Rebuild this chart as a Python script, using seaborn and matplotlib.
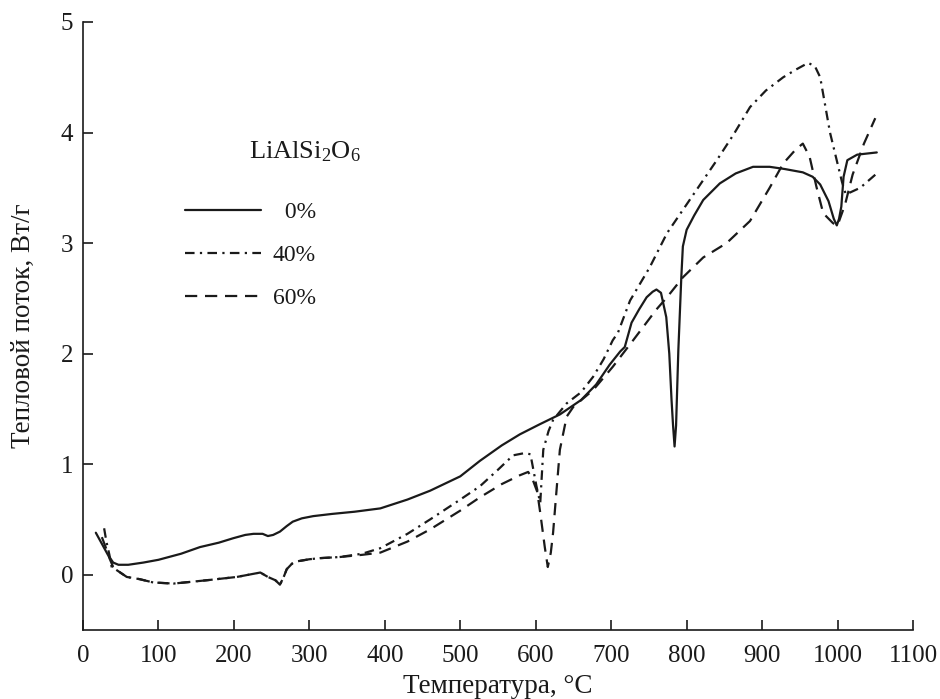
import matplotlib
matplotlib.use('Agg')
import matplotlib.pyplot as plt
import seaborn as sns
import pandas as pd

# 0% LiAlSi2O6
t_0 = [17, 25, 33, 40, 47, 60, 80, 100, 130, 155, 180, 199, 215, 226, 238, 245, 252, 261, 270, 278,
       290, 305, 330, 360, 394, 430, 460, 500, 526, 555, 579, 605, 632, 660, 680, 698, 712, 718, 727,
       737, 747, 755, 760, 766, 773, 777, 780, 782, 784, 786, 789, 793, 795, 800, 810, 822, 844, 865,
       888, 910, 930, 954, 967, 977, 988, 995, 999, 1002, 1005, 1008, 1013, 1026, 1052]
q_0 = [0.38, 0.28, 0.18, 0.11, 0.09, 0.09, 0.11, 0.135, 0.19, 0.25, 0.29, 0.33, 0.36, 0.37, 0.37, 0.35,
       0.36, 0.39, 0.44, 0.48, 0.51, 0.53, 0.55, 0.57, 0.60, 0.68, 0.76, 0.89, 1.03, 1.17, 1.27, 1.36,
       1.45, 1.58, 1.72, 1.90, 2.02, 2.06, 2.28, 2.40, 2.51, 2.56, 2.58, 2.55, 2.33, 2.0, 1.58, 1.35,
       1.16, 1.35, 2.03, 2.7, 2.97, 3.12, 3.25, 3.39, 3.54, 3.63, 3.69, 3.69, 3.67, 3.64, 3.6, 3.53,
       3.38, 3.22, 3.16, 3.22, 3.33, 3.6, 3.75, 3.8, 3.82]

# 40%
t_40 = [28, 31, 35, 38, 45, 58, 75, 93, 120, 164, 204, 235, 245, 255, 261, 266, 270, 277, 283, 300,
        314, 340, 370, 394, 430, 460, 500, 526, 550, 570, 585, 593, 601, 606, 610, 617, 623, 641, 660,
        676, 690, 702, 709, 725, 751, 774, 795, 820, 840, 862, 884, 905, 928, 945, 961, 970, 977, 990,
        1006, 1011, 1030, 1052]
q_40 = [0.42, 0.3, 0.18, 0.07, 0.04, -0.02, -0.04, -0.07, -0.08, -0.05, -0.02, 0.02, -0.02, -0.05,
        -0.09, -0.02, 0.05, 0.1, 0.12, 0.14, 0.15, 0.16, 0.19, 0.24, 0.37, 0.5, 0.68, 0.8, 0.95, 1.08,
        1.10, 1.09, 0.8, 0.65, 1.13, 1.3, 1.4, 1.55, 1.65, 1.79, 1.95, 2.12, 2.19, 2.48, 2.78, 3.09,
        3.3, 3.55, 3.75, 3.98, 4.23, 4.38, 4.5, 4.57, 4.63, 4.6, 4.5, 4.0, 3.55, 3.44, 3.5, 3.63]

# 60%
t_60 = [25, 30, 35, 40, 45, 58, 75, 93, 120, 164, 204, 235, 245, 255, 261, 266, 270, 277, 283, 300,
        314, 340, 370, 394, 430, 460, 500, 526, 555, 579, 590, 596, 602, 606, 612, 616, 620, 623, 628,
        632, 641, 650, 676, 702, 729, 760, 774, 795, 822, 853, 884, 910, 928, 945, 954, 963, 972, 981,
        994, 1000, 1010, 1020, 1035, 1050]
q_60 = [0.34, 0.25, 0.15, 0.07, 0.04, -0.02, -0.04, -0.07, -0.08, -0.05, -0.02, 0.02, -0.02, -0.05,
        -0.09, -0.02, 0.05, 0.1, 0.12, 0.14, 0.15, 0.16, 0.18, 0.2, 0.3, 0.41, 0.58, 0.7, 0.82, 0.9,
        0.93, 0.86, 0.75, 0.56, 0.25, 0.07, 0.2, 0.38, 0.8, 1.13, 1.43, 1.52, 1.67, 1.88, 2.12, 2.4,
        2.51, 2.69, 2.87, 3.0, 3.2, 3.5, 3.72, 3.85, 3.9, 3.78, 3.51, 3.27, 3.18, 3.16, 3.35, 3.62,
        3.9, 4.13]

labels = ['\u20070%', '40%', '60%']
styles = ['-', (0, (4.3, 2.4, 1.0, 2.4)), (0, (5.5, 3.5))]

sns.set_theme(style='ticks')
plt.rcParams['font.family'] = ['Liberation Serif', 'DejaVu Serif']
plt.rcParams['mathtext.fontset'] = 'custom'
plt.rcParams['mathtext.rm'] = 'Liberation Serif'
plt.rcParams['mathtext.it'] = 'Liberation Serif:italic'

fig = plt.figure(figsize=(9.4, 6.99), dpi=100)
ax = fig.add_axes([83 / 940, 1 - 630 / 699, 830 / 940, 608 / 699])

series = [(t_0, q_0), (t_40, q_40), (t_60, q_60)]
for (t, q), lab, ls in zip(series, labels, styles):
    d = pd.DataFrame({'T': t, 'Q': q})
    sns.lineplot(data=d, x='T', y='Q', sort=False, color='#1a1a1a', lw=1.6,
                 linestyle=ls, label=lab, ax=ax)

ax.set_xlim(0, 1100)
ax.set_ylim(-0.5, 5)
ax.set_xticks(range(0, 1101, 100))
ax.set_yticks(range(0, 6))
sns.despine(ax=ax)
for s in ['left', 'bottom']:
    ax.spines[s].set_color('#1a1a1a')
    ax.spines[s].set_linewidth(1.2)
ax.tick_params(direction='in', length=7, width=1.2, colors='#1a1a1a', labelsize=18)
ax.tick_params(axis='x', pad=11)
ax.tick_params(axis='y', pad=7)
ax.set_xlabel('Температура, °C', fontsize=19.5, color='#1a1a1a', labelpad=5)
ax.set_ylabel('Тепловой поток, Вт/г', fontsize=19.5, color='#1a1a1a', labelpad=18)

title = ax.text(305, 699 - 152, r'LiAlSi$_2$O$_6$', transform=None, fontsize=19,
                color='#1a1a1a', ha='center', va='center')

leg = ax.legend(loc='upper left', bbox_to_anchor=(164 / 940, 1 - 180 / 699),
                bbox_transform=fig.transFigure, frameon=False, fontsize=17,
                handlelength=3.2, handletextpad=0.5, labelspacing=0.92)
for txt in leg.get_texts():
    txt.set_color('#1a1a1a')

fig.savefig('out.png', dpi=100)
